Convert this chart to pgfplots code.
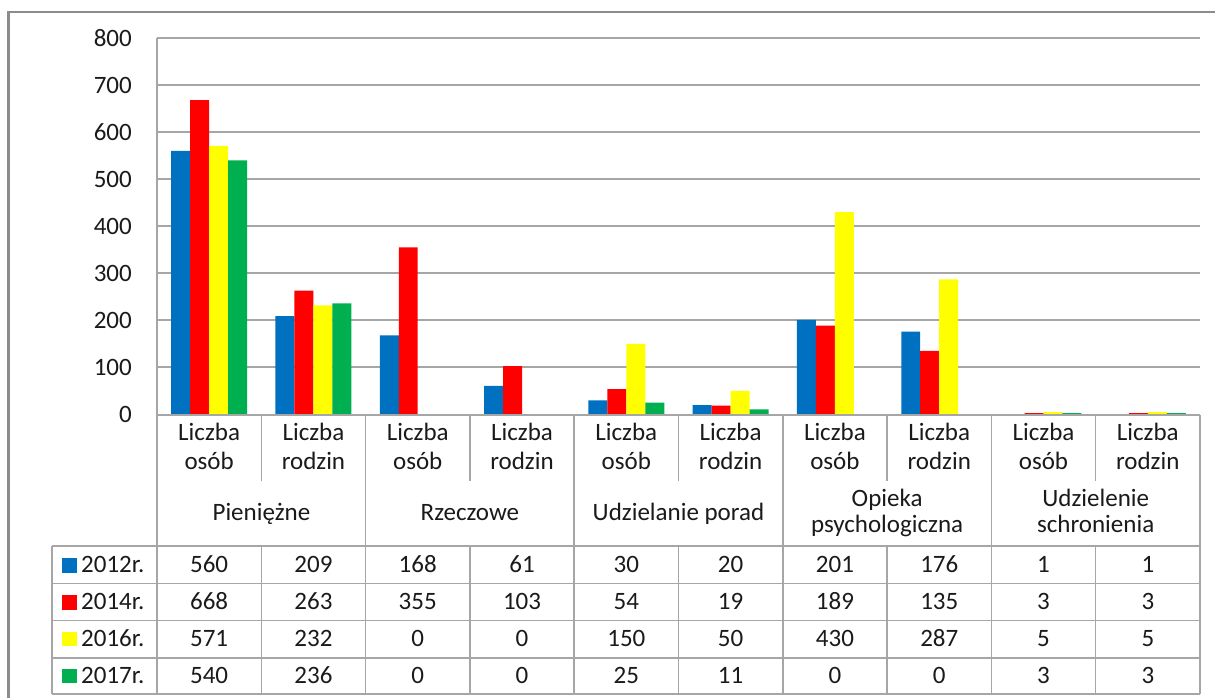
\documentclass[border=0pt]{standalone}
\usepackage{pgfplots}
\pgfplotsset{compat=1.18}
\usepackage{fontspec}
\setmainfont{Carlito}

\definecolor{c12}{HTML}{0070C0}
\definecolor{c14}{HTML}{FF0000}
\definecolor{c16}{HTML}{FFFF00}
\definecolor{c17}{HTML}{00B050}
\definecolor{gridc}{HTML}{A6A6A6}
\definecolor{framec}{HTML}{8C8C8C}
\definecolor{txt}{HTML}{1A1A1A}
\newcommand\fnt{\fontsize{25}{29}\selectfont}

\begin{document}
\begin{tikzpicture}
\useasboundingbox (0pt,0pt) rectangle (1215pt,-698pt);
\clip (0pt,0pt) rectangle (1215pt,-698pt);

\begin{axis}[
  at={(157pt,-414.5pt)}, anchor=south west,
  scale only axis, width=1043pt, height=376.5pt,
  xmin=-0.5, xmax=9.5, ymin=0, ymax=800,
  ybar=0pt, bar width=0.182,
  axis line style={draw=none},
  ytick={0,100,...,800},
  ymajorgrids, major grid style={gridc, line width=2pt},
  xtick={0,...,9},
  major tick length=0pt,
  xticklabels={{Liczba\\osób},{Liczba\\rodzin},{Liczba\\osób},{Liczba\\rodzin},{Liczba\\osób},{Liczba\\rodzin},{Liczba\\osób},{Liczba\\rodzin},{Liczba\\osób},{Liczba\\rodzin}},
  xticklabel style={align=center, font=\fnt, text=txt, anchor=north, inner sep=0pt, yshift=-8.5pt},
  yticklabel style={font=\fnt, text=txt, anchor=east, inner sep=0pt, xshift=-25pt},
  /pgf/number format/assume math mode=true,
]
% 2012r.
\addplot[fill=c12, draw=none] coordinates {(0,560) (1,209) (2,168) (3,61) (4,30) (5,20) (6,201) (7,176) (8,1) (9,1)};
% 2014r.
\addplot[fill=c14, draw=none] coordinates {(0,668) (1,263) (2,355) (3,103) (4,54) (5,19) (6,189) (7,135) (8,3) (9,3)};
% 2016r.
\addplot[fill=c16, draw=none] coordinates {(0,571) (1,232) (2,0) (3,0) (4,150) (5,50) (6,430) (7,287) (8,5) (9,5)};
% 2017r.
\addplot[fill=c17, draw=none] coordinates {(0,540) (1,236) (2,0) (3,0) (4,25) (5,11) (6,0) (7,0) (8,3) (9,3)};
\end{axis}

\begin{scope}[x=1pt,y=-1pt]
% outer frame
\draw[framec, line width=2.5pt] (8.3,720) -- (8.3,11.8) -- (1230,11.8);
% table lines
\begin{scope}[gridc, line width=1.5pt]
\draw (157,38) -- (157,694);
\draw (157,414.5) -- (1200,414.5);
\foreach \x in {365.6,574.2,782.8,991.4,1200} \draw (\x,414.5) -- (\x,694);
\foreach \x in {261.3,469.9,678.5,887.1,1095.7} {\draw (\x,414.5) -- (\x,481); \draw (\x,546) -- (\x,694);}
\foreach \y in {546,583.3,620.7,658,694} \draw (52,\y) -- (1200,\y);
\draw (52,546) -- (52,694);
\end{scope}

\begin{scope}[font=\fnt, text=txt]
% group labels
\node[anchor=base] at (261.4,520) {Pieniężne};
\node[anchor=base] at (469.9,520) {Rzeczowe};
\node[anchor=base] at (678.5,520) {Udzielanie porad};
\node[anchor=base] at (887.1,506) {Opieka};
\node[anchor=base] at (887.1,532) {psychologiczna};
\node[anchor=base] at (1095.7,506) {Udzielenie};
\node[anchor=base] at (1095.7,532) {schronienia};

% legend keys and row names
\fill[c12] (62,558) rectangle (77,572.5);
\fill[c14] (62,595) rectangle (77,609.5);
\fill[c16] (62,631.5) rectangle (77,646);
\fill[c17] (62,668.5) rectangle (77,683);
\node[anchor=base west, inner sep=0pt] at (81,572.5) {2012r.};
\node[anchor=base west, inner sep=0pt] at (81,609.5) {2014r.};
\node[anchor=base west, inner sep=0pt] at (81,646) {2016r.};
\node[anchor=base west, inner sep=0pt] at (81,683) {2017r.};

% data table
\foreach \v [count=\i from 0] in {560,209,168,61,30,20,201,176,1,1}
  \node[anchor=base] at ({209.15+104.3*\i},572.5) {\v};
\foreach \v [count=\i from 0] in {668,263,355,103,54,19,189,135,3,3}
  \node[anchor=base] at ({209.15+104.3*\i},609.5) {\v};
\foreach \v [count=\i from 0] in {571,232,0,0,150,50,430,287,5,5}
  \node[anchor=base] at ({209.15+104.3*\i},646) {\v};
\foreach \v [count=\i from 0] in {540,236,0,0,25,11,0,0,3,3}
  \node[anchor=base] at ({209.15+104.3*\i},683) {\v};
\end{scope}
\end{scope}
\end{tikzpicture}
\end{document}
